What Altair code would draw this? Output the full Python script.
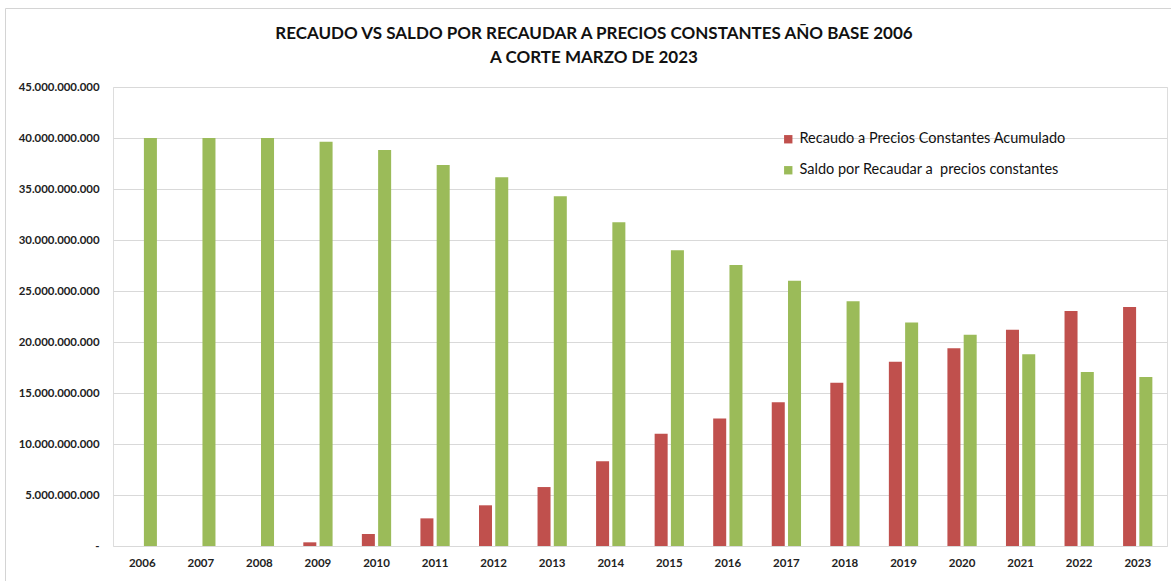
import altair as alt
import pandas as pd

years = [str(y) for y in range(2006, 2024)]
recaudo = [0.0, 0.0, 0.0, 0.36, 1.18, 2.71, 3.99, 5.78, 8.30, 11.0, 12.5, 14.1,
           16.0, 18.07, 19.38, 21.2, 23.04, 23.43]
saldo = [40.0, 40.0, 40.0, 39.64, 38.82, 37.35, 36.15, 34.3, 31.75, 29.0, 27.55,
         26.0, 24.0, 21.9, 20.7, 18.8, 17.06, 16.57]
series = ["Recaudo a Precios Constantes Acumulado",
          "Saldo por Recaudar a\u00a0 precios constantes"]
colors = ["#C0504D", "#9BBB59"]
title_lines = ["RECAUDO VS SALDO POR RECAUDAR A PRECIOS CONSTANTES AÑO BASE 2006",
               "A CORTE MARZO DE 2023"]

rows = []
for i, y in enumerate(years):
    rows.append({"year": y, "serie": series[0], "value": recaudo[i] * 1e9, "ord": 0})
    rows.append({"year": y, "serie": series[1], "value": saldo[i] * 1e9, "ord": 1})
df = pd.DataFrame(rows)

FONT = "Lato"

bars = alt.Chart(df).mark_bar().encode(
    x=alt.X("year:N", sort=years, title=None,
            scale=alt.Scale(paddingInner=0.5, paddingOuter=0.25),
            axis=alt.Axis(labelAngle=0, labelFont=FONT, labelFontSize=11.5,
                          labelFontWeight="bold", labelColor="#222222",
                          ticks=False, domain=False, labelPadding=11)),
    xOffset=alt.XOffset("ord:O", scale=alt.Scale(paddingInner=0.2)),
    y=alt.Y("value:Q", title=None,
            scale=alt.Scale(domain=[0, 45e9], nice=False),
            axis=alt.Axis(values=[i * 5e9 for i in range(10)],
                          labelExpr="datum.value == 0 ? '-' : replace(format(datum.value, ',.0f'), regexp(',', 'g'), '.')",
                          labelFont=FONT, labelFontSize=11.4, labelFontWeight="bold",
                          labelColor="#222222", ticks=False, domain=False,
                          labelPadding=14, gridColor="#d9d9d9", gridWidth=1.2)),
    color=alt.Color("serie:N", sort=series,
                    scale=alt.Scale(domain=series, range=colors),
                    legend=alt.Legend(title=None, orient="none", legendX=668, legendY=45,
                                      symbolType="square", symbolSize=70,
                                      symbolStrokeWidth=0, rowPadding=16,
                                      labelFont=FONT, labelFontSize=14.5,
                                      labelColor="#111111", labelLimit=400)),
)

frame = alt.Chart(pd.DataFrame({"f": [0]})).mark_rect(
    fillOpacity=0, stroke="#d4d4d4", strokeWidth=1
).encode(x=alt.value(-107.5), x2=alt.value(1080), y=alt.value(-78.5), y2=alt.value(520))

chart = alt.layer(frame, bars).properties(
    width=1054, height=459,
    padding={"left": 113, "top": 87, "right": 4, "bottom": 35},
    autosize=alt.AutoSizeParams(type="none"),
    title=alt.TitleParams(text=title_lines, font=FONT, fontSize=17,
                          fontWeight="bold", color="#111111", anchor="middle",
                          dx=-46, dy=2, lineHeight=24, offset=-56.5),
).configure_view(stroke=None).configure(background="white")

chart.save("out.html", embed_options={"renderer": "svg", "actions": False})
